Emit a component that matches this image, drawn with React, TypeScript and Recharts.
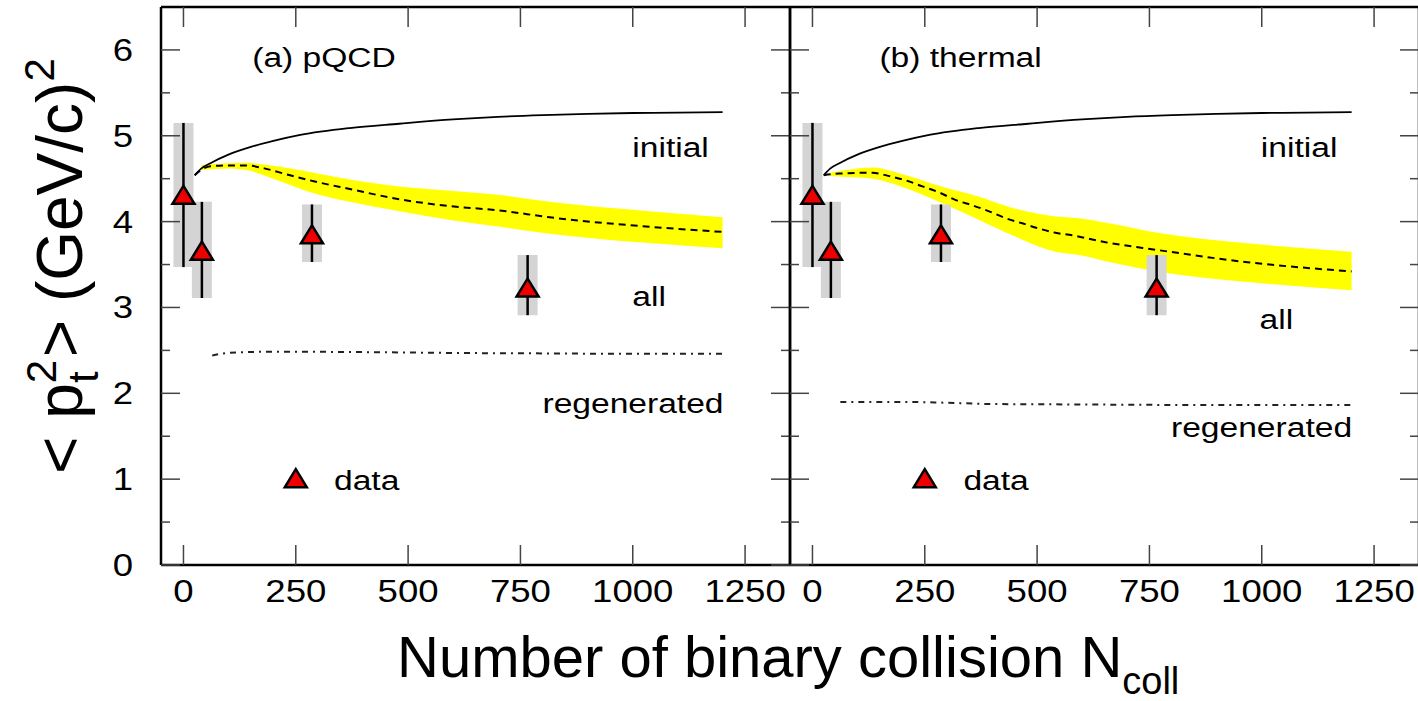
import React from 'react';
import { ComposedChart, Line, Area, Scatter, ErrorBar, XAxis, YAxis } from 'recharts';

// axis ticks
const xTicks = [0, 250, 500, 750, 1000, 1250];
const yTicks = [0, 0.5, 1, 1.5, 2, 2.5, 3, 3.5, 4, 4.5, 5, 5.5, 6];

// measured points (same in both panels)
const dataN = [0, 41, 286, 766];
const dataV = [4.3, 3.65, 3.84, 3.22];
const dataHi = [5.15, 4.23, 4.2, 3.61];
const dataLo = [3.47, 3.11, 3.53, 2.91];

// "initial" curve (same in both panels)
const initialN = [25, 40, 60, 100, 150, 200, 260, 370, 480, 600, 700, 800, 900, 1000, 1100, 1200];
const initialV = [4.54, 4.62, 4.68, 4.78, 4.87, 4.94, 5.01, 5.09, 5.14, 5.19, 5.22, 5.24, 5.255, 5.265, 5.27, 5.275];

// (a) pQCD
const allAN = [25, 45, 60, 100, 140, 180, 230, 290, 370, 481, 593, 704, 815, 1037, 1200];
const allAV = [4.54, 4.62, 4.645, 4.655, 4.655, 4.62, 4.55, 4.47, 4.38, 4.26, 4.18, 4.13, 4.05, 3.94, 3.88];
const bandAN = [40, 100, 140, 200, 290, 370, 481, 593, 704, 815, 1037, 1200];
const bandALo = [4.6, 4.62, 4.6, 4.5, 4.33, 4.23, 4.12, 4.02, 3.94, 3.86, 3.75, 3.69];
const bandAHi = [4.66, 4.68, 4.685, 4.65, 4.57, 4.49, 4.41, 4.36, 4.31, 4.23, 4.12, 4.05];
const regenAN = [64, 100, 200, 400, 600, 800, 1000, 1200];
const regenAV = [2.44, 2.47, 2.485, 2.48, 2.47, 2.465, 2.46, 2.46];

// (b) thermal
const allBN = [25, 60, 133, 171, 208, 245, 282, 319, 356, 393, 430, 467, 504, 541, 578, 652, 767, 963, 1200];
const allBV = [4.54, 4.56, 4.57, 4.53, 4.48, 4.41, 4.34, 4.25, 4.19, 4.12, 4.04, 3.98, 3.92, 3.87, 3.84, 3.76, 3.67, 3.53, 3.42];
const bandBN = [40, 75, 133, 208, 287, 371, 445, 541, 593, 660, 767, 963, 1200];
const bandBLo = [4.53, 4.52, 4.5, 4.39, 4.22, 4.02, 3.84, 3.65, 3.61, 3.53, 3.42, 3.3, 3.2];
const bandBHi = [4.57, 4.6, 4.63, 4.54, 4.41, 4.29, 4.16, 4.06, 4.04, 3.98, 3.87, 3.75, 3.65];
const regenBN = [62, 200, 300, 400, 600, 800, 1000, 1200];
const regenBV = [1.9, 1.9, 1.89, 1.875, 1.87, 1.865, 1.865, 1.865];

// legend marker
const legendN = [250];
const legendV = [1.0];

// annotations (text, anchored at left/baseline)
const labelsA = ['(a) pQCD', 'initial', 'all', 'regenerated', 'data'];
const labelsAN = [153, 999, 999, 799, 335];
const labelsAV = [5.8, 4.75, 3.02, 1.77, 0.87];
const labelsB = ['(b) thermal', 'initial', 'all', 'regenerated', 'data'];
const labelsBN = [149, 998, 995, 798, 336];
const labelsBV = [5.8, 4.75, 2.75, 1.49, 0.87];

const line = (ns: number[], vs: number[]) => ns.map((n, i) => ({ n, v: vs[i] }));
const band = (ns: number[], lo: number[], hi: number[]) => ns.map((n, i) => ({ n, band: [lo[i], hi[i]] }));
const labels = (ts: string[], ns: number[], vs: number[]) => ts.map((label, i) => ({ n: ns[i], v: vs[i], label }));

const points = dataN.map((n, i) => ({
  n,
  v: dataV[i],
  err: [dataV[i] - dataLo[i], dataHi[i] - dataV[i]],
}));
const initialData = line(initialN, initialV);
const legendData = line(legendN, legendV);

const TICK = '#444';
const FRAME = { stroke: '#000', strokeWidth: 2.5 };
const STRETCH = 1.18;

const BottomTick = (props: any) => {
  const { x, y, payload } = props;
  return (
    <g>
      <line x1={x} y1={y} x2={x} y2={y - 20} stroke={TICK} strokeWidth={1.5} />
      <g transform={`translate(${x},${y + 37}) scale(${STRETCH},1)`}>
        <text x={0} y={0} textAnchor="middle" fontSize={31} fill="#000">
          {payload.value}
        </text>
      </g>
    </g>
  );
};

const TopTick = (props: any) => {
  const { x, y } = props;
  return <line x1={x} y1={y} x2={x} y2={y + 20} stroke={TICK} strokeWidth={1.5} />;
};

const makeLeftTick = (showLabel: boolean) => (props: any) => {
  const { x, y, payload } = props;
  const major = Number.isInteger(payload.value);
  return (
    <g>
      <line x1={x} y1={y} x2={x + (major ? 19 : 9)} y2={y} stroke={TICK} strokeWidth={1.5} />
      {showLabel && major && (
        <g transform={`translate(${x - 28},${y + 11}) scale(${STRETCH},1)`}>
          <text x={0} y={0} textAnchor="end" fontSize={31} fill="#000">
            {payload.value}
          </text>
        </g>
      )}
    </g>
  );
};

const RightTick = (props: any) => {
  const { x, y, payload } = props;
  const major = Number.isInteger(payload.value);
  return <line x1={x} y1={y} x2={x - (major ? 19 : 9)} y2={y} stroke={TICK} strokeWidth={1.5} />;
};

const Triangle = (props: any) => {
  const { cx, cy } = props;
  return (
    <path
      d={`M${cx},${cy - 10} L${cx + 11},${cy + 8} L${cx - 11},${cy + 8} Z`}
      fill="#ee0000"
      stroke="#000"
      strokeWidth={2.5}
    />
  );
};

const AnnText = (props: any) => {
  const { cx, cy, payload } = props;
  return (
    <g transform={`translate(${cx},${cy}) scale(1.2,1)`}>
      <text x={0} y={0} fontSize={28} fill="#000">
        {payload.label}
      </text>
    </g>
  );
};

interface PanelProps {
  left: number;
  width: number;
  margin: { top: number; right: number; bottom: number; left: number };
  yWidth: number;
  yLabels: boolean;
  allData: { n: number; v: number }[];
  bandData: { n: number; band: number[] }[];
  regenData: { n: number; v: number }[];
  labelData: { n: number; v: number; label: string }[];
}

function Panel({ left, width, margin, yWidth, yLabels, allData, bandData, regenData, labelData }: PanelProps) {
  const LeftTick = makeLeftTick(yLabels);
  return (
    <div style={{ position: 'absolute', left, top: 0 }}>
      <ComposedChart width={width} height={701} margin={margin}>
        <XAxis
          dataKey="n"
          type="number"
          domain={[-50, 1350]}
          allowDataOverflow
          ticks={xTicks}
          interval={0}
          height={40}
          tickSize={0}
          tickMargin={0}
          tickLine={false}
          axisLine={FRAME}
          tick={(p: any) => <BottomTick {...p} />}
        />
        <XAxis
          xAxisId="top"
          orientation="top"
          dataKey="n"
          type="number"
          domain={[-50, 1350]}
          allowDataOverflow
          ticks={xTicks}
          interval={0}
          height={1}
          tickSize={0}
          tickMargin={0}
          tickLine={false}
          axisLine={FRAME}
          tick={(p: any) => <TopTick {...p} />}
        />
        <YAxis
          type="number"
          domain={[0, 6.5]}
          allowDataOverflow
          ticks={yTicks}
          interval={0}
          width={yWidth}
          tickSize={0}
          tickMargin={0}
          tickLine={false}
          axisLine={FRAME}
          tick={(p: any) => <LeftTick {...p} />}
        />
        <YAxis
          yAxisId="right"
          orientation="right"
          type="number"
          domain={[0, 6.5]}
          allowDataOverflow
          ticks={yTicks}
          interval={0}
          width={1}
          tickSize={0}
          tickMargin={0}
          tickLine={false}
          axisLine={FRAME}
          tick={(p: any) => <RightTick {...p} />}
        />
        <Area
          data={bandData}
          dataKey="band"
          type="monotone"
          fill="#ffff00"
          fillOpacity={1}
          stroke="none"
          isAnimationActive={false}
        />
        <Line
          data={regenData}
          dataKey="v"
          type="monotone"
          stroke="#222"
          strokeWidth={2}
          strokeDasharray="6 5 2 5"
          dot={false}
          isAnimationActive={false}
        />
        <Line
          data={allData}
          dataKey="v"
          type="monotone"
          stroke="#000"
          strokeWidth={2}
          strokeDasharray="7 5"
          dot={false}
          isAnimationActive={false}
        />
        <Line
          data={initialData}
          dataKey="v"
          type="monotone"
          stroke="#000"
          strokeWidth={1.8}
          dot={false}
          isAnimationActive={false}
        />
        <Scatter data={points} dataKey="v" shape={() => <g />} isAnimationActive={false}>
          <ErrorBar dataKey="err" direction="y" width={0} stroke="#d4d4d4" strokeWidth={20} />
          <ErrorBar dataKey="err" direction="y" width={0} stroke="#000" strokeWidth={2.5} />
        </Scatter>
        <Scatter data={points} dataKey="v" shape={(p: any) => <Triangle {...p} />} isAnimationActive={false} />
        <Scatter data={legendData} dataKey="v" shape={(p: any) => <Triangle {...p} />} isAnimationActive={false} />
        <Scatter data={labelData} dataKey="v" shape={(p: any) => <AnnText {...p} />} isAnimationActive={false} />
      </ComposedChart>
    </div>
  );
}

export default function App() {
  return (
    <div
      style={{
        position: 'absolute',
        left: 0,
        top: 0,
        width: 1418,
        height: 701,
        overflow: 'hidden',
        background: '#fff',
        fontFamily: '"Liberation Sans", Arial, Helvetica, sans-serif',
      }}
    >
      <Panel
        left={0}
        width={800}
        margin={{ top: 6, right: 9, bottom: 96, left: 101 }}
        yWidth={60}
        yLabels
        allData={line(allAN, allAV)}
        bandData={band(bandAN, bandALo, bandAHi)}
        regenData={line(regenAN, regenAV)}
        labelData={labels(labelsA, labelsAN, labelsAV)}
      />
      <Panel
        left={740}
        width={700}
        margin={{ top: 6, right: 20, bottom: 96, left: 49 }}
        yWidth={1}
        yLabels={false}
        allData={line(allBN, allBV)}
        bandData={band(bandBN, bandBLo, bandBHi)}
        regenData={line(regenBN, regenBV)}
        labelData={labels(labelsB, labelsBN, labelsBV)}
      />
      <svg width={1418} height={701} style={{ position: 'absolute', left: 0, top: 0, pointerEvents: 'none' }}>
        <text transform="translate(82,474) rotate(-90)" fontSize={64} fill="#000">
          {'< p'}
          <tspan fontSize={42} dy={-26}>2</tspan>
          <tspan fontSize={42} dx={-23} dy={42}>t</tspan>
          <tspan dx={14} dy={-16}>{'> (GeV/c)'}</tspan>
          <tspan fontSize={42} dy={-28}>2</tspan>
        </text>
        <text x={397} y={677} fontSize={58} fill="#000">
          Number of binary collision N
          <tspan fontSize={38} dy={17}>coll</tspan>
        </text>
      </svg>
    </div>
  );
}
